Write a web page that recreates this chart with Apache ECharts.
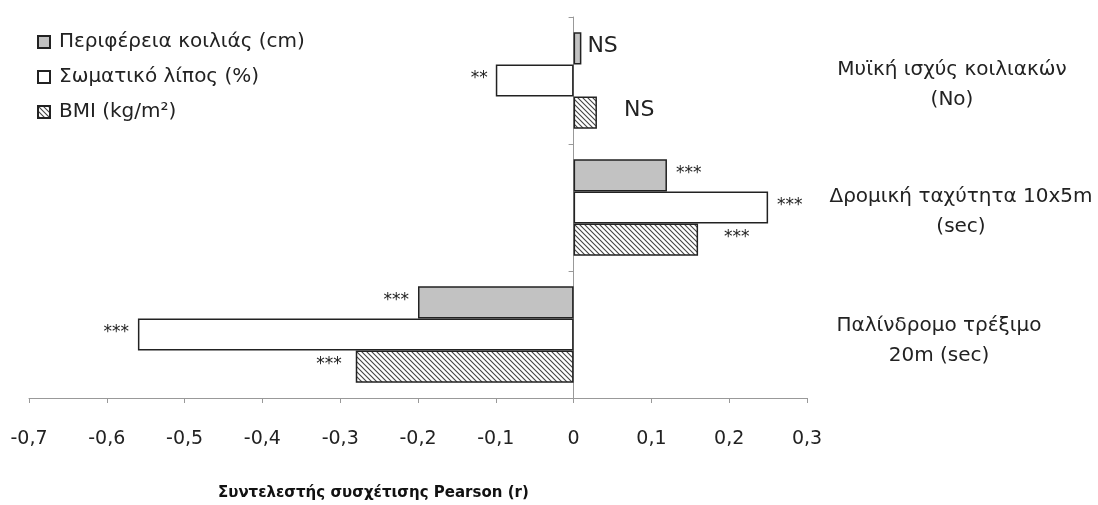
<!DOCTYPE html>
<html><head><meta charset="utf-8">
<script src="https://cdn.jsdelivr.net/npm/echarts@6/dist/echarts.min.js"></script>
<style>html,body{margin:0;padding:0;background:#fff}#c{width:1098px;height:505px}</style>
</head><body><div id="c"></div>
<script>
var categories = ['Μυϊκή ισχύς κοιλιακών\n(No)', 'Δρομική ταχύτητα 10x5m\n(sec)', 'Παλίνδρομο τρέξιμο\n20m (sec)'];
var seriesNames = ['Περιφέρεια κοιλιάς (cm)', 'Σωματικό λίπος (%)', 'BMI (kg/m²)'];
var waist = [0.01, 0.12, -0.20];
var fat = [-0.10, 0.25, -0.56];
var bmi = [0.03, 0.16, -0.28];
var waistSig = ['NS', '***', '***'];
var fatSig = ['**', '***', '***'];
var bmiSig = ['NS', '***', '***'];
var xTicks = [-0.7, 0.3, 0.1];

var FONT = 'DejaVu Sans, sans-serif';
var hatch = document.createElement('canvas');
hatch.width = 5; hatch.height = 5;
var hc = hatch.getContext('2d');
hc.fillStyle = '#fff'; hc.fillRect(0,0,5,5);
hc.strokeStyle = '#444'; hc.lineWidth = 1.1;
hc.beginPath();
hc.moveTo(-1,-1); hc.lineTo(6,6);
hc.moveTo(-1,4); hc.lineTo(1,6);
hc.moveTo(4,-1); hc.lineTo(6,1);
hc.stroke();

var labelDist = [[6,9,9],[8,9,9],[27,26,14]];
function mk(vals, sigs, si) {
  return vals.map(function (v, i) {
    var ns = sigs[i] === 'NS';
    return {
      value: v,
      label: {
        show: true,
        position: v >= 0 ? 'right' : 'left',
        distance: labelDist[si][i],
        formatter: sigs[i],
        fontSize: ns ? 22 : 17,
        fontFamily: FONT,
        color: '#222',
        offset: [0, -2]
      }
    };
  });
}
var fills = ['#c2c2c2', '#ffffff', {image: hatch, repeat: 'repeat'}];
var datas = [[waist, waistSig], [fat, fatSig], [bmi, bmiSig]];
var series = datas.map(function (d, si) {
  return {
    name: seriesNames[si], type: 'bar', yAxisIndex: 0,
    barGap: '0%', barCategoryGap: '24%',
    itemStyle: {color: fills[si], borderColor: '#222', borderWidth: 1.5},
    data: mk(d[0], d[1], si)
  };
});
var catPad = [[0,0,0,0],[0,0,0,18],[0,26,0,0]];
var rightCats = categories.map(function (c, i) {
  return {value: c, textStyle: {padding: catPad[i], align: 'center'}};
});

var chart = echarts.init(document.getElementById('c'), null, {renderer: 'canvas'});
chart.setOption({
  backgroundColor: '#fff',
  animation: false,
  textStyle: {fontFamily: FONT},
  legend: {
    orient: 'vertical', left: 37, top: 32, itemGap: 15, padding: 0,
    icon: 'rect', itemWidth: 12, itemHeight: 12,
    textStyle: {fontSize: 20, color: '#222', fontFamily: FONT, padding: [0,0,0,4]},
    data: seriesNames
  },
  grid: {left: 29, right: 291, top: 17, bottom: 107, containLabel: false, outerBoundsMode: 'none'},
  xAxis: {
    type: 'value', min: xTicks[0], max: xTicks[1], interval: xTicks[2],
    axisLine: {show: true, onZero: false, lineStyle: {color: '#999', width: 1}},
    axisTick: {show: true, length: 5, lineStyle: {color: '#999'}},
    splitLine: {show: false},
    axisLabel: {
      fontSize: 19, color: '#222', margin: 32, fontFamily: FONT,
      formatter: function (v) { return String(Math.round(v * 10) / 10).replace('.', ','); }
    }
  },
  yAxis: [{
    type: 'category', data: categories, inverse: true,
    axisLine: {show: true, onZero: true, lineStyle: {color: '#999'}},
    axisTick: {show: true, length: 5, lineStyle: {color: '#999'}},
    axisLabel: {show: false}
  }, {
    type: 'category', data: rightCats, inverse: true, position: 'right',
    axisLine: {show: false}, axisTick: {show: false},
    axisLabel: {
      show: true, align: 'center', margin: 145, fontSize: 20, color: '#222', lineHeight: 30, fontFamily: FONT,
      formatter: function (v, i) { return '{s' + i + '|}\n' + v; },
      rich: {s0: {lineHeight: 9, fontSize: 1}, s1: {lineHeight: 8, fontSize: 1}, s2: {lineHeight: 12, fontSize: 1}}
    }
  }],
  graphic: [{
    type: 'text', left: 218, top: 486,
    style: {text: 'Συντελεστής συσχέτισης Pearson (r)', fontSize: 15, fontWeight: 'bold', fill: '#111', fontFamily: FONT}
  }],
  series: series
});
</script></body></html>
